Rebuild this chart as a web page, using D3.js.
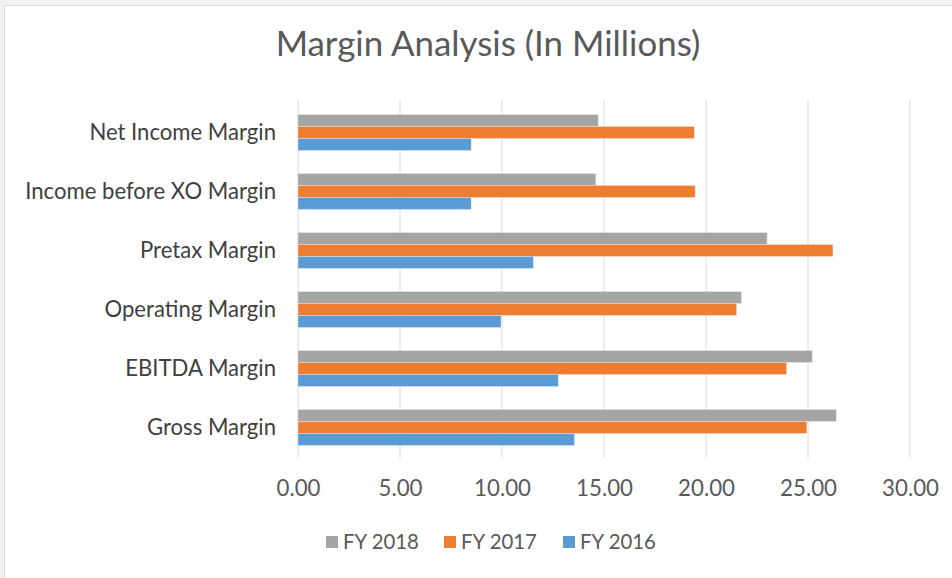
<!DOCTYPE html>
<html>
<head>
<meta charset="utf-8">
<script src="https://cdn.jsdelivr.net/npm/d3@7"></script>
<style>
  body { margin: 0; background: #f2f2f2; }
  svg { display: block; }
  text { font-family: Lato, "Open Sans", sans-serif; }
</style>
</head>
<body>
<div id="chart"></div>
<script>
const categories = ['Net Income Margin', 'Income before XO Margin', 'Pretax Margin',
  'Operating Margin', 'EBITDA Margin', 'Gross Margin']
const seriesNames = ['FY 2018', 'FY 2017', 'FY 2016']
const fy2018 = [14.72, 14.60, 23.00, 21.74, 25.21, 26.39]
const fy2017 = [19.43, 19.47, 26.22, 21.50, 23.95, 24.94]
const fy2016 = [8.49, 8.49, 11.54, 9.95, 12.76, 13.55]
const xTicks = [0, 5, 10, 15, 20, 25, 30]
const colors = ['#a5a5a5', '#ed7d31', '#5b9bd5']

const W = 952, H = 578
const svg = d3.select('#chart').append('svg')
  .attr('width', W)
  .attr('height', H)

// scale font so a sample text hits the width seen in the reference
function fitSize(sel, base, target) {
  const w = sel.node().getComputedTextLength()
  return base * target / w
}

// chart area
svg.append('rect')
  .attr('x', 4.5)
  .attr('y', 5.5)
  .attr('width', W + 10)
  .attr('height', H + 10)
  .attr('fill', 'white')
  .attr('stroke', '#d9d9d9')

const title = svg.append('text')
  .attr('x', 488)
  .attr('y', 56)
  .attr('text-anchor', 'middle')
  .attr('fill', '#595959')
  .attr('font-size', 30)
  .text('Margin Analysis (In Millions)')
title.attr('font-size', fitSize(title, 30, 425))

const xScale = d3.scaleLinear()
  .domain([0, 30])
  .range([298, 910])

const yScale = d3.scaleBand()
  .domain(categories)
  .range([103, 457])
  .paddingInner(0.39)
  .paddingOuter(0.195)

const subScale = d3.scaleBand()
  .domain(seriesNames)
  .range([0, yScale.bandwidth()])

// gridlines
svg.append('g')
  .selectAll('line')
  .data(xTicks)
  .join('line')
  .attr('x1', d => xScale(d))
  .attr('x2', d => xScale(d))
  .attr('y1', 100)
  .attr('y2', 458)
  .attr('stroke', '#d9d9d9')
  .attr('stroke-width', 1)

// x tick labels
const xAxis = d3.axisBottom(xScale)
  .tickValues(xTicks)
  .tickFormat(d3.format('.2f'))
  .tickSize(0)
  .tickPadding(0)
const gx = svg.append('g')
  .attr('transform', 'translate(0,480)')
  .call(xAxis)
gx.select('.domain').remove()
gx.selectAll('text')
  .attr('fill', '#595959')
  .attr('font-size', 20)
  .style('font-family', 'Lato, sans-serif')
const tickSize = fitSize(gx.selectAll('text').filter(d => d === 30), 20, 57)
gx.selectAll('text').attr('font-size', tickSize)

// y category labels
const yAxis = d3.axisLeft(yScale).tickSize(0).tickPadding(0)
const gy = svg.append('g')
  .attr('transform', 'translate(276,0)')
  .call(yAxis)
gy.select('.domain').remove()
gy.selectAll('text')
  .attr('fill', '#404040')
  .attr('font-size', 20)
  .style('font-family', 'Lato, sans-serif')
const catSize = fitSize(gy.selectAll('text').filter(d => d === 'Income before XO Margin'), 20, 251)
gy.selectAll('text').attr('font-size', catSize)

const values = [fy2018, fy2017, fy2016]
for (let s = 0; s < seriesNames.length; s++) {
  svg.append('g')
    .selectAll('rect')
    .data(categories)
    .join('rect')
    .attr('x', xScale(0))
    .attr('y', d => yScale(d) + subScale(seriesNames[s]))
    .attr('width', (d, i) => xScale(values[s][i]) - xScale(0))
    .attr('height', subScale.bandwidth())
    .attr('fill', colors[s])
    .attr('stroke', 'white')
    .attr('stroke-opacity', 0.4)
    .attr('stroke-width', 0.75)
}

// legend
const legendX = [326, 444, 563]
const lg = svg.append('g')
const legendTexts = []
for (let s = 0; s < seriesNames.length; s++) {
  lg.append('rect')
    .attr('x', legendX[s])
    .attr('y', 536)
    .attr('width', 12)
    .attr('height', 12)
    .attr('fill', colors[s])
  legendTexts.push(lg.append('text')
    .attr('x', legendX[s] + 17)
    .attr('y', 549)
    .attr('fill', '#595959')
    .attr('font-size', 20)
    .text(seriesNames[s]))
}
const legSize = fitSize(legendTexts[2], 20, 76)
legendTexts.forEach(t => t.attr('font-size', legSize))
</script>
</body>
</html>
